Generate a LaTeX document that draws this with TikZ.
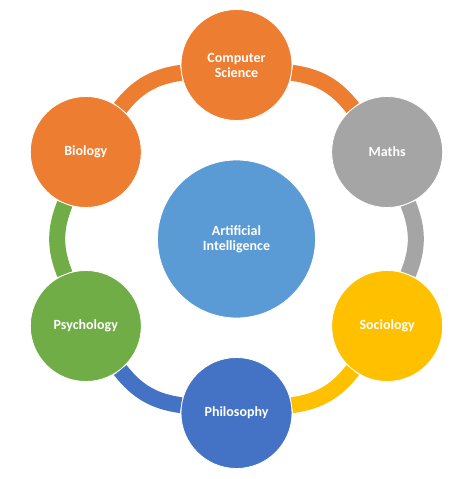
\documentclass[tikz,border=0pt]{standalone}
\usepackage{fontspec}
\setmainfont{Carlito}
\usetikzlibrary{backgrounds}

\definecolor{aiblue}{HTML}{5B9BD5}
\definecolor{csorange}{HTML}{ED7D31}
\definecolor{mathgray}{HTML}{A5A5A5}
\definecolor{socyellow}{HTML}{FFC000}
\definecolor{philblue}{HTML}{4472C4}
\definecolor{psygreen}{HTML}{70AD47}

\begin{document}
\begin{tikzpicture}[x=1pt, y=1pt]
    \tikzstyle{topic} = [circle, minimum size=111pt, inner sep=0pt, text centered, align=center, draw=white, line width=0.8pt, text=white, font=\fontsize{14}{15}\selectfont\bfseries]
    \tikzstyle{core} = [topic, minimum size=158pt, fill=aiblue]
    \tikzstyle{link} = [line width=16pt, bend left=22]

    \useasboundingbox (-236.5,-240) rectangle (222.5,239);

    % Centre
    \node [core] (ai) at (0,0) {Artificial\\Intelligence};

    % Outer topics
    \node [topic, fill=csorange] (cs) at (90:174) {Computer\\Science};
    \node [topic, fill=mathgray] (maths) at (30:174) {Maths};
    \node [topic, fill=socyellow] (soc) at (-30:174) {Sociology};
    \node [topic, fill=philblue] (phil) at (-90:174) {Philosophy};
    \node [topic, fill=psygreen] (psy) at (-150:174) {Psychology};
    \node [topic, fill=csorange] (bio) at (150:174) {Biology};

    % Ring
    \begin{scope}[on background layer]
        \draw [link, csorange] (cs) to (maths);
        \draw [link, mathgray] (maths) to (soc);
        \draw [link, socyellow] (soc) to (phil);
        \draw [link, philblue] (phil) to (psy);
        \draw [link, psygreen] (psy) to (bio);
        \draw [link, csorange] (bio) to (cs);
    \end{scope}
\end{tikzpicture}
\end{document}
